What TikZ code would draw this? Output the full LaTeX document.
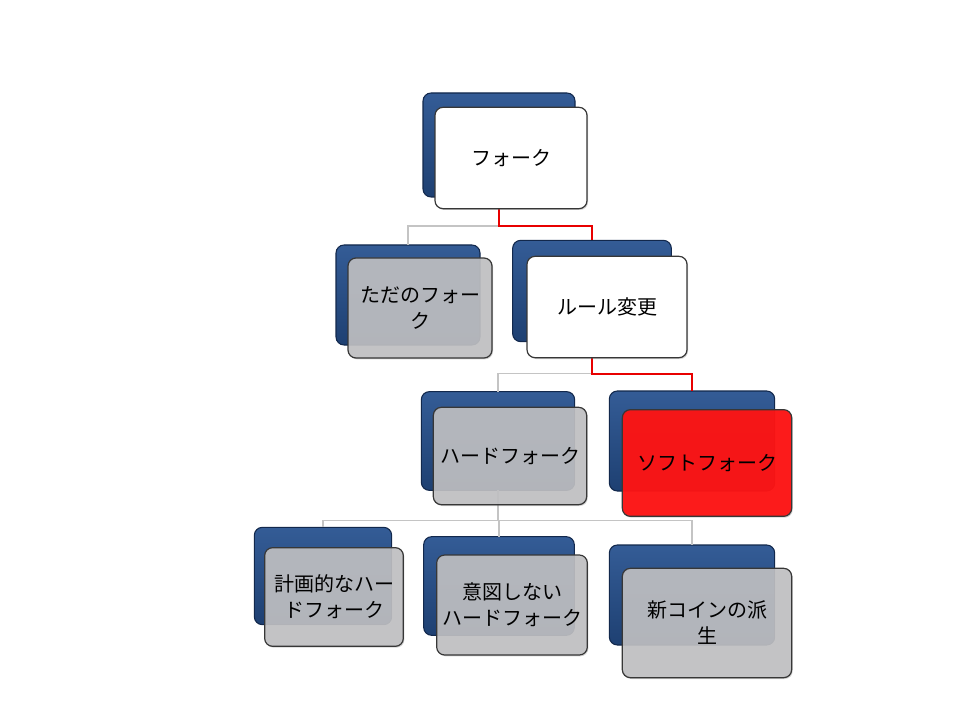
\documentclass[tikz,border=0pt]{standalone}
\usepackage{fontspec}
\setmainfont{Noto Sans CJK JP}
\usetikzlibrary{shadows}

\definecolor{backblue}{RGB}{30,64,114}
\definecolor{backtop}{RGB}{52,92,150}
\definecolor{edgeblue}{RGB}{18,40,76}
\definecolor{boxgray}{RGB}{194,194,196}
\definecolor{boxred}{RGB}{255,18,18}
\definecolor{boxedge}{RGB}{55,55,55}
\definecolor{linkgray}{RGB}{196,196,196}
\definecolor{linkred}{RGB}{232,0,0}

\tikzset{
	backbox/.style={draw=edgeblue,line width=0.8pt,rounded corners=6pt,
		top color=backtop,bottom color=backblue,outer sep=0pt,
		minimum width=114pt,minimum height=76pt},
	frontbox/.style={draw=boxedge,line width=0.9pt,rounded corners=6pt,outer sep=0pt,
		minimum width=114pt,minimum height=76pt,align=center,
		font=\fontsize{15pt}{19.5pt}\selectfont,
		drop shadow={shadow xshift=0.8pt,shadow yshift=-1pt,opacity=0.35}},
	plainbox/.style={frontbox,fill=white},
	greybox/.style={frontbox,fill=boxgray,fill opacity=0.88,text opacity=1},
	redbox/.style={frontbox,fill=boxred,fill opacity=0.95,text opacity=1},
	link/.style={draw=linkgray,line width=1.1pt},
	hotlink/.style={draw=linkred,line width=1.5pt}
}

\begin{document}
\begin{tikzpicture}[x=0.75pt,y=-0.75pt]
	\useasboundingbox (0,0) rectangle (960,720);
	\begin{scope}[every node/.style={backbox}]
		\node (forkB) at (499,145) [minimum height=78pt] {};
		\node (tadaB) at (408,295) [minimum width=108pt,minimum height=75pt] {};
		\node (ruleB) at (592,291) [minimum width=119pt] {};
		\node (hardB) at (498,441) [minimum width=115pt,minimum height=74pt] {};
		\node (softB) at (692,441) [minimum width=124pt,minimum height=75pt] {};
		\node (planB) at (323,576) [minimum width=103pt,minimum height=73pt] {};
		\node (unintB) at (499,586) [minimum width=113pt,minimum height=74pt] {};
		\node (coinB) at (692,595) [minimum width=124pt,minimum height=75pt] {};
	\end{scope}
	\begin{scope}
		\draw[link] (forkB.south) -- ++(0,29) -| (tadaB.north);
		\draw[link] (ruleB.south) -- ++(0,32) -| (hardB.north);
		\draw[link] (hardB.south) -- ++(0,30) -| (planB.north);
		\draw[link] (hardB.south) -- ++(0,30) -| (unintB.north);
		\draw[link] (hardB.south) -- ++(0,30) -| (coinB.north);
		\draw[hotlink] (forkB.south) -- ++(0,29) -| (ruleB.north);
		\draw[hotlink] (ruleB.south) -- ++(0,32) -| (softB.north);
	\end{scope}
	\node[plainbox] (fork) at (511,158) {フォーク};
	\node[greybox,minimum width=108pt,minimum height=75pt] (tada) at (420,308) {ただのフォー\\ク};
	\node[plainbox,minimum width=120pt] (rule) at (607,307) {ルール変更};
	\node[greybox,minimum width=115pt,minimum height=73pt] (hard) at (510,456) {ハードフォーク};
	\node[redbox,minimum width=127pt,minimum height=80pt] (soft) at (707,463) {ソフトフォーク};
	\node[greybox,minimum width=104pt,minimum height=74pt] (plan) at (334,597) {計画的なハー\\ドフォーク};
	\node[greybox,minimum width=113pt,minimum height=75pt] (unint) at (512,605) {意図しない\\ハードフォーク};
	\node[greybox,minimum width=127pt,minimum height=82pt] (coin) at (707,623) {新コインの派\\生};
\end{tikzpicture}
\end{document}
